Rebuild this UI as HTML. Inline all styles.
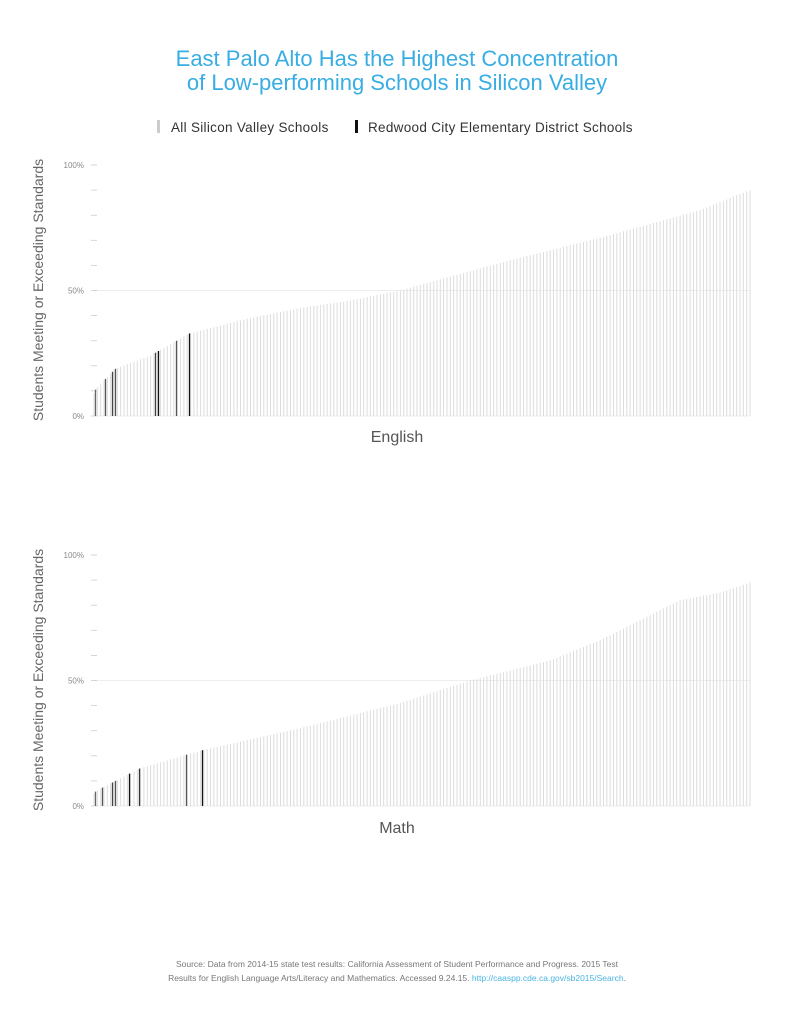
<!DOCTYPE html>
<html><head><meta charset="utf-8"><style>
html,body{margin:0;padding:0;background:#fff;}
body{width:792px;height:1022px;position:relative;overflow:hidden;font-family:"Liberation Sans",sans-serif;}
</style></head><body>
<svg id="s" width="792" height="1022" xmlns="http://www.w3.org/2000/svg" style="position:absolute;left:0;top:0">
<text x="397" y="66" text-anchor="middle" font-size="22" fill="#38ade3" font-family="Liberation Sans, sans-serif">East Palo Alto Has the Highest Concentration</text>
<text x="397" y="90" text-anchor="middle" font-size="22" fill="#38ade3" font-family="Liberation Sans, sans-serif">of Low-performing Schools in Silicon Valley</text>
<rect x="157" y="120" width="3" height="13" fill="#ccc"/>
<text x="171" y="132" font-size="13.5" fill="#333" letter-spacing="0.3" font-family="Liberation Sans, sans-serif">All Silicon Valley Schools</text>
<rect x="355" y="120" width="3" height="13" fill="#111"/>
<text x="368" y="132" font-size="13.5" fill="#333" letter-spacing="0.3" font-family="Liberation Sans, sans-serif">Redwood City Elementary District Schools</text>
<g id="c1"></g><g id="c2"></g>
<text x="397" y="442" text-anchor="middle" font-size="16" fill="#555" font-family="Liberation Sans, sans-serif">English</text>
<text x="397" y="833" text-anchor="middle" font-size="16" fill="#555" font-family="Liberation Sans, sans-serif">Math</text>
<text transform="translate(43,290) rotate(-90)" text-anchor="middle" font-size="14" fill="#666" font-family="Liberation Sans, sans-serif">Students Meeting or Exceeding Standards</text>
<text transform="translate(43,680) rotate(-90)" text-anchor="middle" font-size="14" fill="#666" font-family="Liberation Sans, sans-serif">Students Meeting or Exceeding Standards</text>
<text x="397" y="967" text-anchor="middle" font-size="8.5" fill="#777" font-family="Liberation Sans, sans-serif">Source: Data from 2014-15 state test results: California Assessment of Student Performance and Progress. 2015 Test</text>
<text x="397" y="981" text-anchor="middle" font-size="8.5" fill="#777" font-family="Liberation Sans, sans-serif">Results for English Language Arts/Literacy and Mathematics. Accessed 9.24.15. <tspan fill="#4ab3e3">http://caaspp.cde.ca.gov/sb2015/Search</tspan>.</text>
</svg>
<script>
function interp(pts,x){for(var i=0;i<pts.length-1;i++){if(x<=pts[i+1][0]){var a=pts[i],b=pts[i+1];return a[1]+(b[1]-a[1])*(x-a[0])/(b[0]-a[0]);}}return pts[pts.length-1][1];}
function draw(id,top,bot,pts,dark){
 var g=document.getElementById(id),h='',H=bot-top;
 h+='<line x1="94" x2="750" y1="'+(top+H/2)+'" y2="'+(top+H/2)+'" stroke="#eee" stroke-width="1"/>';
 h+='<line x1="94" x2="750" y1="'+bot+'" y2="'+bot+'" stroke="#eee" stroke-width="1"/>';
 for(var k=0;k<=10;k++){var y=top+H*k/10;h+='<line x1="91" x2="97" y1="'+y+'" y2="'+y+'" stroke="#ccc" stroke-width="0.8"/>';}
 h+='<text x="84" y="'+(top+3)+'" text-anchor="end" font-size="8" fill="#888">100%</text>';
 h+='<text x="84" y="'+(top+H/2+3)+'" text-anchor="end" font-size="8" fill="#888">50%</text>';
 h+='<text x="84" y="'+(bot+3)+'" text-anchor="end" font-size="8" fill="#888">0%</text>';
 var N=198,p=(750-94)/(N-1);
 for(var i=0;i<N;i++){var x=94+i*p,v=interp(pts,x),y=bot-H*v/100;
  h+='<line x1="'+x.toFixed(1)+'" x2="'+x.toFixed(1)+'" y1="'+y.toFixed(1)+'" y2="'+bot+'" stroke="#dcdcdc" stroke-width="1"/>';}
 dark.forEach(function(d){var x=d[0],v=interp(pts,x),y=bot-H*v/100;
  h+='<line x1="'+x+'" x2="'+x+'" y1="'+y.toFixed(1)+'" y2="'+bot+'" stroke="'+d[1]+'" stroke-width="1.3"/>';});
 g.innerHTML=h;
}
draw('c1',165,416,[[94,9],[96,11],[116,19],[150,24],[190,33],[250,39],[300,43],[350,46],[400,50],[500,61],[600,71],[700,82],[750,90]],
 [[95.5,'#666'],[105.5,'#555'],[112.5,'#444'],[115.5,'#555'],[155.5,'#444'],[158.5,'#111'],[176.5,'#555'],[189.5,'#111']]);
draw('c2',555,806,[[94,5],[96,6],[140,15],[200,22],[300,31],[400,41],[470,50],[550,58],[600,66],[680,82],[720,85],[750,89]],
 [[95.5,'#666'],[102.5,'#555'],[112.5,'#444'],[115.5,'#555'],[129.5,'#111'],[139.5,'#333'],[186.5,'#555'],[202.5,'#111']]);
</script>
</body></html>
